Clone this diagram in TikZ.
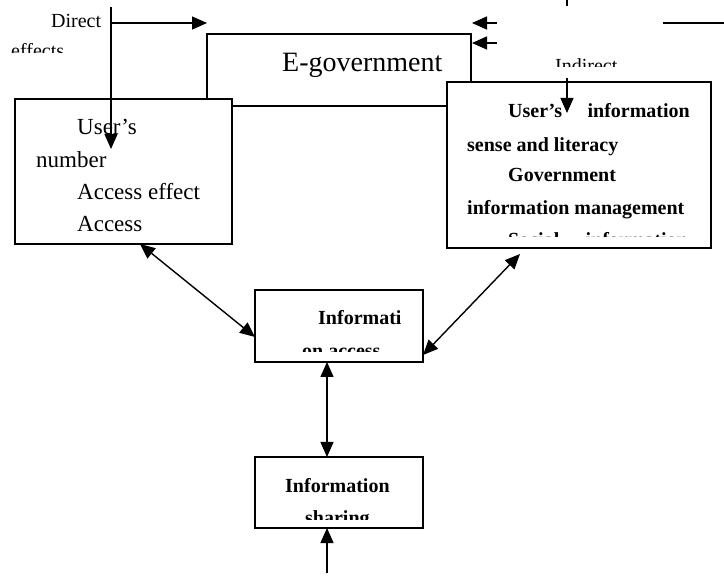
\documentclass[tikz,border=0pt]{standalone}
\usepackage{fontspec}
\setmainfont{Liberation Serif}
\usepackage{tikz}
\usetikzlibrary{arrows.meta}
\usetikzlibrary{calc}

\tikzset{
	frame/.style={draw, line width=1.4pt, fill=white, inner sep=0pt, outer sep=0pt},
	plain/.style={anchor=base west, inner sep=0pt, font=\fontsize{23}{28}\selectfont},
	small/.style={anchor=base west, inner sep=0pt, font=\fontsize{20}{24}\selectfont},
	heavy/.style={anchor=base west, inner sep=0pt, font=\fontsize{20}{24}\selectfont\bfseries},
	title/.style={anchor=base west, inner sep=0pt, font=\fontsize{28}{32}\selectfont},
	link/.style={line width=1.4pt, -{Triangle[length=15pt,width=13pt]}},
	twoway/.style={line width=1.4pt, {Triangle[length=15pt,width=13pt]}-{Triangle[length=15pt,width=13pt]}}
}

\begin{document}
\begin{tikzpicture}[x=1pt, y=-1pt]
		\useasboundingbox (0,0) rectangle (724,580);
		
		\node[frame, minimum width=264pt, minimum height=72pt] (egov) at (339,70) {};
		\node[title] (egovtext) at (282,72) {E-government};
		
		\node[frame, minimum width=217pt, minimum height=145pt] (users) at (123.5,171.5) {};
		\node[frame, minimum width=264pt, minimum height=166pt] (factors) at (579,165) {};
		\node[frame, minimum width=168pt, minimum height=72pt] (access) at (339,326) {};
		\node[frame, minimum width=168pt, minimum height=71pt] (sharing) at (339,492.5) {};
		
		\node[plain] (usera) at (77,135) {User's};
		\node[plain] (userb) at (36,168) {number};
		\node[plain] (userc) at (77,200) {Access effect};
		\node[plain] (userd) at (77,232) {Access};
		
		\node[heavy] (facta) at (508,118) {User's};
		\node[heavy, anchor=base east] (factb) at (690,118) {information};
		\node[heavy] (factc) at (467,152) {sense and literacy};
		\node[heavy] (factd) at (508,182) {Government};
		\node[heavy] (facte) at (467,215) {information management};
		\begin{scope}
			\clip (448,200) rectangle (710,237);
			\node[heavy] (factf) at (508,247) {Social};
			\node[heavy, anchor=base east] (factg) at (688,247) {information};
		\end{scope}
		
		\node[heavy] (accessa) at (318,325) {Informati};
		\begin{scope}
			\clip (256,330) rectangle (422,352);
			\node[heavy] (accessb) at (302,358) {on access};
		\end{scope}
		
		\node[heavy] (sharinga) at (285,493) {Information};
		\begin{scope}
			\clip (256,500) rectangle (422,519);
			\node[heavy] (sharingb) at (305,525) {sharing};
		\end{scope}
		
		\node[small] (direct) at (51,28) {Direct};
		\begin{scope}
			\clip (0,40) rectangle (100,53);
			\node[small] (effects) at (11,58) {effects};
		\end{scope}
		\begin{scope}
			\clip (540,50) rectangle (640,67);
			\node[small] (indirect) at (555,73) {Indirect};
		\end{scope}
		
		\coordinate (dtop) at (111,7);
		\coordinate (dmid) at (111,23);
		\coordinate (dend) at (111,149);
		\draw[link] (dtop) -- (dend);
		\draw[link] (dmid) -- (dmid -| egov.west);
		
		\coordinate (ia) at (497,23);
		\coordinate (ib) at (497,43);
		\coordinate (ic) at (663,23);
		\coordinate (id) at (724,23);
		\coordinate (ie) at (567,0);
		\coordinate (if) at (567,6);
		\coordinate (ig) at (567,78);
		\coordinate (ih) at (567,113);
		\draw[link] (ia) -- ([xshift=1pt]ia -| egov.east);
		\draw[link] (ib) -- ([xshift=1pt]ib -| egov.east);
		\draw[line width=1.4pt] (ic) -- (id);
		\draw[line width=1.4pt] (ie) -- (if);
		\draw[link] (ig) -- (ih);
		
		\draw[twoway] ([xshift=125pt]users.south west) -- ([yshift=-11pt]access.west);
		\draw[twoway] ([xshift=73pt,yshift=-6pt]factors.south west) -- ([yshift=-29pt]access.east);
		\draw[twoway] ([xshift=-12pt]access.south) -- ([xshift=-12pt]sharing.north);
		
		\coordinate (feed) at (327,573);
		\draw[link] (feed) -- ([xshift=-12pt]sharing.south);
	\end{tikzpicture}
\end{document}
